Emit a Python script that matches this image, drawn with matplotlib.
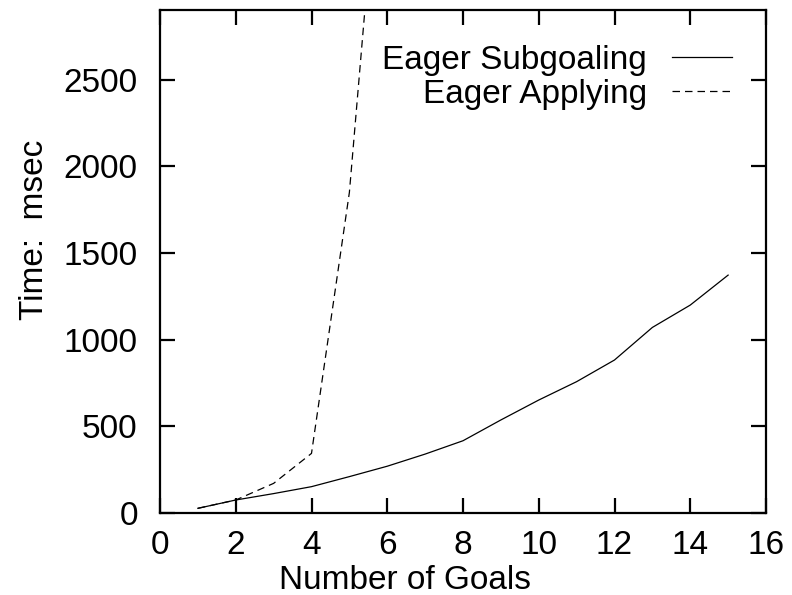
import matplotlib
matplotlib.use("Agg")
import matplotlib.pyplot as plt

plt.rcParams['font.family'] = ['Liberation Sans', 'DejaVu Sans']

goals_sub = [1, 2, 3, 4, 5, 6, 7, 8, 9, 10, 11, 12, 13, 14, 15]
time_sub = [27, 75, 112, 152, 210, 270, 340, 417, 537, 652, 758, 883, 1071, 1200, 1373]

goals_app = [1, 2, 3, 4, 5, 6]
time_app = [27, 75, 171, 344, 1850, 4420]

labels = ["Eager Subgoaling", "Eager Applying"]

FS = 24

fig = plt.figure(figsize=(7.92, 5.95), dpi=100)
ax = fig.add_axes([160/792, (595-513)/595, (766-160)/792, (513-10)/595])

ax.plot(goals_sub, time_sub, color='black', lw=0.9, ls='-', label=labels[0])
ax.plot(goals_app, time_app, color='black', lw=0.9, ls=(0, (6, 4)), label=labels[1])

ax.set_xlim(0, 16)
ax.set_ylim(0, 2903)
ax.set_xticks(range(0, 17, 2))
ax.set_yticks(range(0, 2501, 500))

for s in ax.spines.values():
    s.set_linewidth(1.6)

ax.tick_params(direction='in', length=10.5, width=1.6, top=True, right=True,
               labelsize=FS, pad=0)
ax.tick_params(axis='x', pad=12)
ax.tick_params(axis='y', pad=16)

ax.set_xlabel("Number of Goals", fontsize=FS)
ax.set_ylabel("Time:  msec", fontsize=FS)
ax.xaxis.set_label_coords(0.404, -0.103)
ax.yaxis.set_label_coords(-0.181, 0.563)

leg = ax.legend(loc='upper right', bbox_to_anchor=(732/792, (595-45)/595),
                bbox_transform=fig.transFigure, frameon=False, fontsize=FS,
                markerfirst=False, handlelength=1.8, handletextpad=0.75,
                labelspacing=0.08, borderpad=0, borderaxespad=0)
try:
    vp = leg._legend_box._children[-1]._children[0]
    vp.align = "right"
except Exception:
    pass

fig.savefig("out.png", dpi=100)
